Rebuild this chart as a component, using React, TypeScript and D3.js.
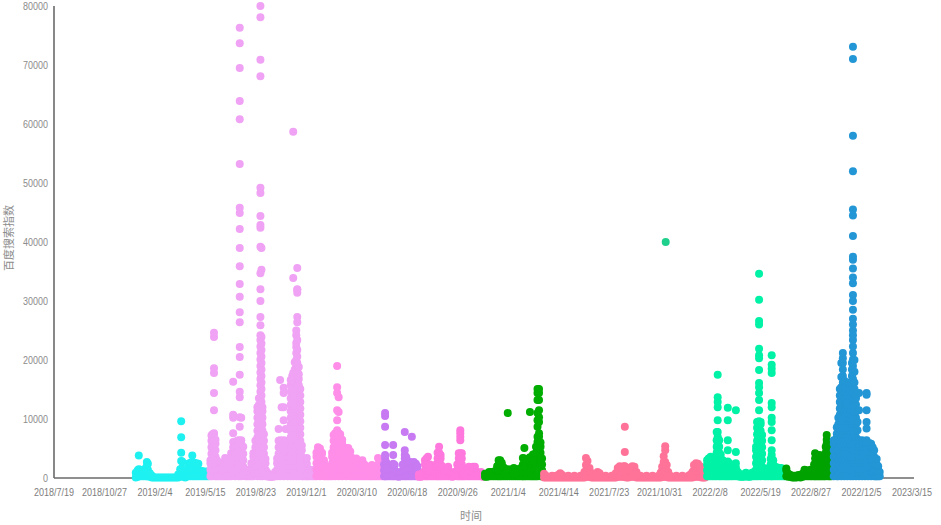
import React from 'react';
import * as d3 from 'd3';

// Dates are day offsets from START; values are in thousands of the index.
const START = '2018/7/19';
const END = '2023/3/15';
const X_TICK_LABELS = ['2018/7/19','2018/10/27','2019/2/4','2019/5/15','2019/8/23','2019/12/1','2020/3/10','2020/6/18','2020/9/26','2021/1/4','2021/4/14','2021/7/23','2021/10/31','2022/2/8','2022/5/19','2022/8/27','2022/12/5','2023/3/15'];
const Y_TICKS = [0,10000,20000,30000,40000,50000,60000,70000,80000];

const CYAN: number[][] = [[162,0.1,0.9],[166,0.2,1.3],[168,0.3,1.5,3.8],[170,0.3,1.4],[174,0.3,1.2],[178,0.3,1.4],[182,0.3,1.7],[184,0.3,1.3,2.0,2.7],[186,0.3,1.4,2.4],[190,0.2,0.8],[194,0.1,0.4],[198,0.1],[202,0.1],[206,0.1],[210,0.1],[214,0.1],[218,0.1],[222,0.1],[226,0.1],[230,0.1],[234,0.1],[238,0.1],[242,0.1],[246,0.1,0.6],[250,0.3,1.5],[252,0.3,1.5,2.9,4.3,6.9,9.6],[254,0.3,1.6,2.8],[256,0.2,1.0],[260,0.1,0.4],[264,0.3,1.2],[266,0.3,1.4,2.4],[270,0.3,1.4,2.6],[274,0.3,1.4,2.5,3.8],[278,0.3,1.4,2.6],[282,0.3,1.4,2.5],[286,0.3,1.4,2.4],[290,0.3,1.1],[294,0.3,1.2],[298,0.3,1.0],[302,0.3,1.1],[306,0.3,1.0]];

const VIOLET: number[][] = [[310,0.3,1.4,2.5,3.0],[312,0.8,1.9,3.0,4.1,5.2,6.3,7.2],[314,0.3,1.4,2.5,3.6,4.7,5.8,6.9,7.4],[317,0.8,1.9,3.0,4.1,5.2,6.3,7.4,7.6,11.5,14.4,17.8,18.6,23.9,24.6],[320,0.3,1.4,2.5,3.6,4.7,5.8,6.5],[323,0.3,1.3,2.3,3.0],[327,0.3,1.5],[331,0.3,1.6],[335,0.3,1.8,2.6],[339,0.3,1.4,2.5,3.4],[343,0.3,1.5,2.2],[347,0.3,1.5,2.4],[351,0.3,1.4,2.5,3.6,4.2],[355,0.8,1.9,3.0,4.1,5.2,6.1,7.6,10.2,10.7,16.3],[359,0.3,1.4,2.5,3.6,4.7,5.3],[363,0.8,1.9,3.0,4.1,5.2,6.3],[366,0.3,1.4,2.5,3.6,4.7,5.8,6.4],[368,0.8,1.9,3.0,4.1,5.2,6.3,8.7,10.3,13.7,14.6,17.5,20.5,22.2,26.4,28.1,30.7,32.9,35.9,39.0,42.2,44.9,45.8,53.2,60.8,63.9,69.5,73.7,76.3],[371,0.3,1.4,2.5,3.6,4.7,5.8,6.4,10.2],[375,0.8,1.9,3.0,4.1,5.3],[379,0.3,1.4],[383,0.3,1.4],[387,0.3,1.2],[391,0.3,1.5,2.5],[395,0.3,1.4,2.5,3.6,4.2],[399,0.8,1.9,3.0,4.1,5.2,6.3],[403,0.3,1.4,2.5,3.6,4.7,5.8,6.9,8.0,9.1,10.2,11.3,12.0],[406,0.8,1.9,3.0,4.1,5.2,6.3,7.4,8.5,9.6,10.7,11.8,12.4,13.5],[409,0.3,1.4,2.5,3.6,4.7,5.8,6.9,8.0,9.1,10.2,11.3,12.4,13.5,14.6,15.7,16.8,17.9,19.0,20.1,21.2,22.3,23.4,24.2,25.9,27.3,30.0,32.0,34.7,39.2,42.4,42.9,44.4,48.3,49.2,68.1,70.9,78.1,80.0],[411,0.8,1.9,3.0,4.1,5.2,6.3,7.4,8.5,9.6,10.7,11.8,12.9,14.0,15.1,16.2,17.3,18.4,19.5,20.6,21.7,22.8,23.9,35.3,39.0],[413,0.3,1.4,2.5,3.6,4.7,5.8,6.9,8.0,9.1,10.2,11.3,12.0],[416,0.8,1.9,3.0,4.1,5.2,6.3,7.4],[419,0.3,1.4,2.5,3.2],[422,0.3,1.0],[426,0.2,0.6],[430,0.2,0.5],[434,0.2,0.5],[438,0.3,1.0],[442,0.3,1.4,2.5,3.3],[445,0.8,1.9,3.0,4.1,5.2,6.3,8.3],[448,0.3,1.4,2.5,3.6,4.7,5.8,6.4,16.6],[451,0.8,1.9,3.0,4.1,5.2,6.3,12.0],[455,0.3,1.4,2.5,3.6,4.7,5.8,6.4,9.8,12.0,14.4,15.3],[459,0.8,1.9,3.0,4.1,5.2,6.3,8.3],[463,0.3,1.4,2.5,3.6,4.3],[466,0.8,1.9,3.0,3.6],[469,0.3,1.4,2.5,3.6,4.7,5.8,6.9,8.0,9.1,10.2,11.3,12.4,13.5,14.6,15.7,16.6],[472,0.8,1.9,3.0,4.1,5.2,6.3,7.4,8.5,9.6,10.7,11.8,12.9,14.0,15.1,16.2,17.3],[474,0.3,1.4,2.5,3.6,4.7,5.8,6.9,8.0,9.1,10.2,11.3,12.4,13.5,14.6,15.7,16.8,17.8,33.9,58.7],[477,0.8,1.9,3.0,4.1,5.2,6.3,7.4,8.5,9.6,10.7,11.8,12.9,14.0,15.1,16.2,17.3,18.4,19.6],[480,0.3,1.4,2.5,3.6,4.7,5.8,6.9,8.0,9.1,10.2,11.3,12.4,13.5,14.6,15.7,16.8,17.9,19.0,20.0,21.2,22.2,22.9,24.2,25.0],[482,0.8,1.9,3.0,4.1,5.2,6.3,7.4,8.5,9.6,10.7,11.8,12.9,14.0,15.1,16.2,17.3,18.4,19.5,20.6,21.7,23.4,26.4,27.3,31.4,31.9,32.0,35.6],[485,0.3,1.4,2.5,3.6,4.7,5.8,6.9,8.0,9.1,10.2,11.3,12.4,13.5,14.6,15.7,16.8,17.6,18.8],[488,0.8,1.9,3.0,4.1,5.2,6.3,7.4,8.5,9.6,10.7,11.8,12.9,14.0,15.1],[491,0.3,1.4,2.5,3.6,4.7,5.5],[494,0.3,1.4],[498,0.3,1.3,2.3],[501,0.3,1.3,2.4,3.4],[504,0.3,1.5],[508,0.3,1.4],[512,0.3,1.2],[516,0.3,1.4]];

const PINK: number[][] = [[520,0.3,1.4,2.5,3.6,4.3],[523,0.8,1.9,3.0,4.1,5.2],[527,0.3,1.4,2.5,3.6,4.7,5.0],[531,0.8,1.9,3.0,4.1,4.3],[535,0.3,1.4,2.5,3.0],[539,0.3,1.3,2.0],[543,0.3,1.2],[547,0.3,1.2],[551,0.3,1.4,2.5,3.6,4.3],[554,0.8,1.9,3.0,4.1,5.2,6.3,7.3],[557,0.3,1.4,2.5,3.6,4.7,5.8,6.9,7.6],[561,0.8,1.9,3.0,4.1,5.2,6.3,7.4,8.1,9.8,11.5,14.4,15.4,19.0],[564,0.3,1.4,2.5,3.6,4.7,5.8,6.9,7.6,11.2,13.7],[567,0.8,1.9,3.0,4.1,5.2,6.3,7.4],[571,0.3,1.4,2.5,3.6,4.7,5.8,6.5],[575,0.8,1.9,3.0,4.1,5.1],[579,0.3,1.4,2.5,3.6,4.7,5.1],[583,0.8,1.9,3.0,4.1,5.1],[587,0.3,1.4,2.5,3.6,4.5],[591,0.3,1.3,2.3,3.4],[595,0.3,1.3,2.3,3.1],[599,0.3,1.3,2.3,3.3],[603,0.3,1.3,2.3],[607,0.3,1.3,2.4],[611,0.3,1.3,2.5,3.0],[615,0.3,1.3,2.3],[619,0.3,1.3,2.0],[623,0.3,1.2],[627,0.3,1.0],[630,0.3,1.2,2.2],[634,0.3,1.2],[638,0.3,1.0],[642,0.3,1.3,2.3,3.4],[646,0.3,1.3,2.3,3.2],[650,0.3,1.3,2.3,3.0]];

const PURPLE: number[][] = [[654,0.3,1.3,2.3],[656,0.3,1.3,2.3,3.3,3.9,5.6,8.7,10.5,11.0],[658,0.3,1.3,2.3,2.7],[661,0.3,1.3,2.2],[665,0.3,1.3,2.2],[669,0.3,1.3,2.2],[672,0.3,1.3,2.4,3.9,5.6],[675,0.3,1.3,2.2],[679,0.3,1.0],[683,0.2,0.6],[687,0.3,1.0],[691,0.3,1.3,2.3],[695,0.3,1.3,2.3,3.3,3.9,4.7,7.8],[698,0.3,1.3,2.3,3.5],[702,0.3,1.3,2.5],[706,0.3,1.3,2.7],[709,0.3,1.3,2.5,7.0],[713,0.3,1.3,2.7],[717,0.3,1.3,2.4],[720,0.3,1.3,2.0]];

const MAGENTA: number[][] = [[723,0.2,0.6],[727,0.2,0.6],[731,0.3,0.9],[735,0.3,1.3,2.3,3.0],[738,0.3,1.3,2.3,3.3],[741,0.3,1.3,2.3,3.6],[745,0.3,1.3,2.3],[749,0.3,1.2,1.9],[753,0.3,1.4],[757,0.3,1.5,2.3],[760,0.3,1.3,2.3,3.3,4.3],[763,0.3,1.3,2.3,3.3,4.3,5.3],[766,0.3,1.3,2.3,3.3,3.9],[769,0.3,1.3,2.0],[773,0.3,1.2],[777,0.3,1.0],[781,0.3,1.3,1.9],[785,0.3,1.0],[789,0.2,0.7],[793,0.3,1.0],[799,0.3,1.3,2.3],[802,0.3,1.3,2.3,3.3,4.2],[805,0.3,1.3,2.3,3.3,4.2,6.4,7.0,7.6,8.1],[808,0.3,1.3,2.3,3.3,4.2],[811,0.3,1.3,1.6],[814,0.3,1.0],[818,0.3,1.2],[822,0.3,1.2,1.9],[826,0.3,1.1],[830,0.3,1.3,1.9],[834,0.3,1.2,1.9],[838,0.3,1.0],[842,0.3,0.9],[846,0.3,1.0],[850,0.2,0.7]];

const GREEN: number[][] = [[854,0.2,0.7],[858,0.2,0.7],[862,0.3,1.0],[866,0.3,1.0],[870,0.3,0.9],[874,0.3,1.2],[878,0.3,1.3,2.0],[881,0.3,1.3,2.3,3.0],[884,0.3,1.3,2.3,3.0],[887,0.3,1.3,2.3,2.6],[891,0.3,1.3,1.8],[895,0.3,1.4],[899,0.3,1.5,11.0],[903,0.3,1.3],[907,0.3,1.5],[911,0.3,1.7],[915,0.3,1.3],[919,0.3,1.2],[923,0.3,1.6],[927,0.3,1.4],[929,0.3,1.3,2.3,3.4],[932,0.3,1.3,2.3,3.3,5.1],[935,0.3,1.3,2.3,3.0],[939,0.3,1.3,2.5],[943,0.3,1.3,2.3,3.5,11.2],[946,0.3,1.3,2.3,3.3],[949,0.3,1.3,2.3,3.3,4.0],[952,0.3,1.3,2.6],[955,0.3,1.3,2.3,3.3,4.3,5.3],[958,0.3,1.3,2.3,3.3,4.3,5.3,6.1,7.0,8.7,9.8,11.0,13.2,14.4,15.1],[961,0.8,1.8,2.8,3.8,4.8,5.8,7.0,7.6,9.5,10.3,11.5,13.2,14.4,15.1],[964,0.3,1.3,2.3,3.3,4.3,5.3,6.0],[967,0.3,1.3,2.3,3.3]];

const ROSE: number[][] = [[971,0.1,0.7],[975,0.1,0.4],[979,0.1],[983,0.1],[987,0.1,0.4],[991,0.1],[995,0.1,0.4],[999,0.1,0.5],[1003,0.1,0.8],[1007,0.1,0.5],[1011,0.1],[1015,0.1],[1019,0.1,0.4],[1023,0.1],[1027,0.1],[1031,0.1,0.4],[1035,0.1],[1039,0.1],[1043,0.1,0.4],[1047,0.1],[1051,0.1,1.0],[1054,0.2,1.2,2.2,3.4],[1057,0.2,1.2,2.9],[1061,0.2,1.2,1.7],[1065,0.1,0.8],[1069,0.1],[1073,0.1,0.4],[1077,0.1,1.0],[1081,0.1,0.8],[1085,0.1],[1089,0.1],[1093,0.1,0.4],[1097,0.1],[1101,0.1],[1105,0.1,0.4],[1109,0.1],[1113,0.1,0.8],[1117,0.2,1.2,1.7],[1121,0.2,1.2,2.0],[1125,0.2,1.2,1.8],[1129,0.2,1.2,2.0],[1131,0.2,1.2,2.0,4.4,8.7],[1134,0.1,1.0],[1138,0.1,0.5],[1142,0.2,1.2,1.8],[1146,0.2,1.2,2.0],[1150,0.2,1.2,1.9],[1154,0.1,1.0],[1158,0.1],[1162,0.1,0.4],[1166,0.1],[1170,0.1],[1174,0.1,0.4],[1178,0.1],[1182,0.1],[1186,0.1,0.4],[1190,0.1],[1194,0.1],[1198,0.1,0.4],[1202,0.1,0.9],[1205,0.2,1.2,1.9],[1208,0.2,1.2,2.7,3.7],[1211,0.2,1.2,2.7,4.7,5.4],[1214,0.2,1.2,2.2],[1217,0.1,1.0],[1221,0.1,0.4],[1225,0.1],[1229,0.1],[1233,0.1,0.4],[1237,0.1],[1241,0.1],[1245,0.1,0.4],[1249,0.1],[1253,0.1],[1257,0.1,0.4],[1261,0.1,0.6],[1265,0.1,1.0],[1268,0.2,1.3,2.2],[1272,0.2,1.3,2.5],[1276,0.2,1.3,2.4],[1280,0.2,1.3,2.0],[1283,0.1,1.2],[1287,0.1,0.5],[1290,0.1]];

const TEAL: number[][] = [[1212,40.0]];

const AQUA: number[][] = [[1294,0.3,1.3,2.3,3.0],[1297,0.3,1.3,2.3,3.3],[1301,0.3,1.3,2.3,3.6],[1305,0.3,1.3,2.3,3.3],[1309,0.3,1.3,2.3,3.4],[1313,0.3,1.3,2.3,3.3,4.3,5.3,6.4,7.8],[1315,0.8,1.8,2.8,3.8,4.8,5.8,6.4,7.0,7.8,9.8,12.0,12.9,13.7,17.5],[1318,0.3,1.3,2.3,3.3,4.3,5.3,6.4],[1321,0.3,1.3,2.3,3.3,4.0],[1325,0.3,1.3,2.3,3.0],[1329,0.3,1.3,2.3,2.7],[1332,0.3,1.3,2.3,2.5],[1335,0.3,1.3,2.3,2.8,4.7,6.4,9.8,11.9],[1338,0.3,1.3,2.3,2.5],[1342,0.3,1.3,1.9],[1346,0.3,1.3,2.0],[1351,0.3,1.3,1.8,2.5,4.4,11.5],[1355,0.3,1.0],[1359,0.2,0.6],[1363,0.2,0.6],[1367,0.2,0.6],[1371,0.3,0.9],[1375,0.2,0.6],[1379,0.2,0.6],[1383,0.3,0.9],[1387,0.3,1.0],[1391,0.3,1.4,2.5,3.6,4.7,5.3],[1393,0.8,1.9,3.0,4.1,5.2,6.3,7.4,8.5,9.5],[1395,0.3,1.4,2.5,3.6,4.7,5.8,6.9,8.0,9.1,9.5],[1397,0.8,1.9,3.0,4.1,5.2,6.3,7.4,8.5,9.6,11.5,13.2,14.4,15.4,16.1,18.3,20.3,20.8,21.9,26.0,26.6,30.2,34.6],[1400,0.3,1.4,2.5,3.6,4.7,5.8,6.9,8.0,9.1,9.5],[1403,0.8,1.9,3.0,4.1,5.2,6.3,7.3],[1407,0.3,1.0],[1411,0.3,1.3,1.6],[1415,0.3,1.0],[1420,0.3,1.3,2.3,3.2],[1422,0.3,1.3,1.9,3.2,3.9,4.7,6.4,8.1,9.5,10.2,12.0,12.7,17.8,18.5,19.2,20.8],[1425,0.3,1.3,2.3,3.0],[1429,0.3,1.3,1.9],[1433,0.3,1.3,1.8],[1437,0.3,1.3,1.7],[1441,0.3,1.3,1.7],[1445,0.3,1.5],[1448,0.3,1.3]];

const GREEN2: number[][] = [[1451,0.3,1.3,1.6],[1455,0.2,0.7],[1459,0.2,0.5],[1463,0.1,0.4],[1467,0.1,0.4],[1471,0.1,0.4],[1475,0.2,0.5],[1479,0.1,0.4],[1483,0.2,0.7],[1487,0.3,1.0,1.4],[1491,0.3,1.3],[1495,0.3,1.2],[1499,0.3,1.4],[1502,0.3,1.0],[1506,0.3,1.3,2.3],[1508,0.3,1.3,2.3,3.3,4.2],[1511,0.3,1.3,2.0],[1514,0.3,1.3,2.3,3.3],[1517,0.3,1.3,2.3,3.3,3.9],[1520,0.3,1.3,2.3,3.3,3.6],[1523,0.3,1.3,2.3,3.3],[1526,0.3,1.3,2.3,3.0],[1529,0.3,1.3,2.3,3.3,4.3,5.3],[1531,0.8,1.8,2.8,3.8,4.8,5.8,6.5,7.3],[1534,0.3,1.3,2.3,3.3,4.3,5.3,6.0],[1537,0.3,1.3,2.3,3.3,4.3,5.3,5.9],[1540,0.3,1.3,2.3,3.3,4.3,5.3]];

const BLUE: number[][] = [[1545,0.3,1.4,2.5,3.6,4.7,5.8,6.4],[1548,0.8,1.9,3.0,4.1,5.2,6.3],[1551,0.3,1.4,2.5,3.6,4.7,5.8,6.9,7.5,8.6],[1554,0.3,1.4,2.5,3.6,4.7,5.8,6.9,8.0,9.1,10.2],[1557,0.8,1.9,3.0,4.1,5.2,6.3,7.4,8.5,9.6,10.7,11.8,12.9,14.0,15.1],[1560,0.3,1.4,2.5,3.6,4.7,5.8,6.9,8.0,9.1,10.2,11.3,12.4,13.5,14.6,15.4,17.1,19.5],[1563,0.8,1.9,3.0,4.1,5.2,6.3,7.4,8.5,9.6,10.7,11.8,12.9,14.0,15.1,16.2,17.3,18.4,19.5,20.3,21.2],[1566,0.3,1.4,2.5,3.6,4.7,5.8,6.9,8.0,9.1,10.2,11.3,12.4,13.5,14.6,15.7,16.5],[1569,0.8,1.9,3.0,4.1,5.2,6.3,7.4,8.5,9.6,10.7,11.8,12.9,14.0,15.1],[1572,0.3,1.4,2.5,3.6,4.7,5.8,6.9,8.0,9.1,10.2,11.3,12.4,13.5,14.6,15.4],[1575,0.8,1.9,3.0,4.1,5.2,6.3,7.4,8.5,9.6,10.7,11.8,12.9,14.0,15.1,16.2],[1578,0.3,1.4,2.5,3.6,4.7,5.8,6.9,8.0,9.1,10.2,11.3,12.4,13.5,14.6,15.0],[1581,0.8,1.9,3.0,4.1,5.2,6.3,7.4,8.5,9.6,10.7,11.8,12.9,14.0,15.1,16.2,17.3,18.4,19.5],[1583,0.3,1.4,2.5,3.6,4.7,5.8,6.9,8.0,9.1,10.2,11.3,12.4,13.5,14.6,15.7,16.8,17.9,19.0,20.1,21.2,22.3,23.4,24.2,25.0,26.0,27.0,28.5,30.0,31.0,33.0,34.0,35.5,37.0,37.5,41.0,44.5,45.5,52.0,58.0,71.0,73.1],[1586,0.8,1.9,3.0,4.1,5.2,6.3,7.4,8.5,9.6,10.7,11.8,12.9,14.0,15.1,16.2,18.0,20.0],[1589,0.3,1.4,2.5,3.6,4.7,5.8,6.9,8.0,9.1,10.2,11.3,12.4,13.5,14.0],[1592,0.8,1.9,3.0,4.1,5.2,6.3,8.1,9.5],[1595,0.3,1.4,2.5,3.6,4.7,5.8,6.4,11.5,14.4],[1598,0.8,1.9,3.0,4.1,5.2,6.3],[1601,0.3,1.4,2.5,3.6,4.7,5.8,6.4],[1604,0.8,1.9,3.0,4.1,5.2,6.0],[1607,0.3,1.4,2.5,3.6,4.7,5.8],[1610,0.8,1.9,3.0,4.1,5.2,5.9,6.4,8.4,9.5,11.5,14.1,14.4],[1613,0.3,1.4,2.5,3.6,4.7,5.8],[1616,0.8,1.9,3.0,4.1,5.2,5.9],[1619,0.3,1.4,2.5,3.6,4.7,5.8],[1622,0.8,1.9,3.0,4.1,5.2],[1625,0.3,1.4,2.5,3.6,4.7],[1628,0.3,1.3,2.3],[1630,0.3,1.3,2.3,3.2],[1633,0.3,1.3,2.0],[1636,0.3,1.0]];

const SERIES = [
  { name: 'p1', color: '#1ff1f1', cols: CYAN },
  { name: 'p2', color: '#f0a2f4', cols: VIOLET },
  { name: 'p3', color: '#ff8ee9', cols: PINK },
  { name: 'p4', color: '#c77af2', cols: PURPLE },
  { name: 'p5', color: '#ff78dd', cols: MAGENTA },
  { name: 'p6', color: '#00ad00', cols: GREEN },
  { name: 'p7', color: '#ff7399', cols: ROSE },
  { name: 'p8', color: '#1fd08c', cols: TEAL },
  { name: 'p9', color: '#00f2a6', cols: AQUA },
  { name: 'p10', color: '#00a200', cols: GREEN2 },
  { name: 'p11', color: '#2396d6', cols: BLUE },
];

export default function App() {
  const W = 941, H = 525;
  const parse = d3.timeParse('%Y/%m/%d');
  const t0 = parse(START) as Date;
  const t1 = parse(END) as Date;
  const x = d3.scaleTime().domain([t0, t1]).range([54, 912]);
  const y = d3.scaleLinear().domain([0, 80000]).range([478, 6]);
  const r = 4;
  const points = SERIES.flatMap((s) =>
    s.cols.flatMap((c) =>
      c.slice(1).map((v) => ({ date: d3.timeDay.offset(t0, c[0]), value: v * 1000, color: s.color }))
    )
  );
  const font = '"Liberation Sans", "Noto Sans", sans-serif';
  const cjk = '"Noto Sans CJK SC", "Noto Sans", sans-serif';
  return (
    <svg width={W} height={H} style={{ position: 'absolute', left: 0, top: 0, background: '#fff' }}>
      <rect x={0} y={0} width={W} height={H} fill="#fff" />
      <line x1={x(t0)} x2={914} y1={y(0)} y2={y(0)} stroke="#6a6a6a" strokeWidth={1.6} />
      <line x1={x(t0)} x2={x(t0)} y1={y(0)} y2={y(80000)} stroke="#6a6a6a" strokeWidth={1.6} />
      <g>
        {points.map((p, i) => (
          <circle key={i} cx={x(p.date)} cy={y(p.value)} r={r} fill={p.color} />
        ))}
      </g>
      <g fontFamily={font} fontSize={10} fill="#8c8c8c" textAnchor="end">
        {Y_TICKS.map((t) => (
          <text key={t} transform={`translate(48,${y(t)}) scale(0.9,1)`} dy="0.35em">{t}</text>
        ))}
      </g>
      <g fontFamily={font} fontSize={10.5} fill="#7d7d7d" textAnchor="middle">
        {X_TICK_LABELS.map((l) => (
          <text key={l} transform={`translate(${x(parse(l) as Date)},496) scale(0.86,1)`}>{l}</text>
        ))}
      </g>
      <text x={471} y={520} fontFamily={cjk} fontSize={11} fill="#8c8c8c" textAnchor="middle">时间</text>
      <text transform={`translate(13,238) rotate(-90)`} fontFamily={cjk} fontSize={11} fill="#8c8c8c" textAnchor="middle">百度搜索指数</text>
    </svg>
  );
}
